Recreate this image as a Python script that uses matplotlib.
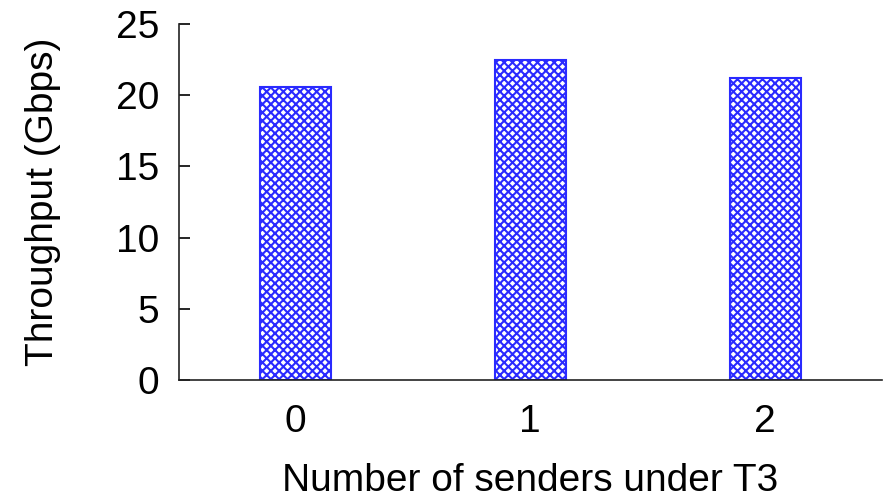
import matplotlib
matplotlib.use("Agg")
import matplotlib.pyplot as plt

categories = ["0", "1", "2"]
throughput = [20.6, 22.5, 21.2]
yticks = [0, 5, 10, 15, 20, 25]

plt.rcParams['font.family'] = ['Liberation Sans', 'DejaVu Sans']
plt.rcParams['hatch.color'] = '#2a2aff'
plt.rcParams['hatch.linewidth'] = 1.5

fig = plt.figure(figsize=(8.85, 5.01), dpi=100)
ax = fig.add_axes([0.2023, 0.2415, 0.7944, 0.7105])

x = list(range(len(categories)))
ax.bar(x, throughput, width=0.302, facecolor='white', edgecolor='#2a2aff',
       hatch='xxxx', linewidth=1.5)

ax.set_xlim(-0.494, 2.497)
ax.set_ylim(0, 25)
ax.set_xticks(x)
ax.set_xticklabels(categories)
ax.set_yticks(yticks)
ax.tick_params(axis='x', length=0, pad=17, labelsize=28)
ax.tick_params(axis='y', direction='in', length=8, width=1.2, pad=14, labelsize=28)
for s in ['top', 'right']:
    ax.spines[s].set_visible(False)
for s in ['left', 'bottom']:
    ax.spines[s].set_linewidth(1.2)
    ax.spines[s].set_color('#222222')

ax.set_xlabel('Number of senders under T3', fontsize=28, labelpad=17)
ax.set_ylabel('Throughput (Gbps)', fontsize=28, labelpad=40)

fig.savefig('out.png', dpi=100)
